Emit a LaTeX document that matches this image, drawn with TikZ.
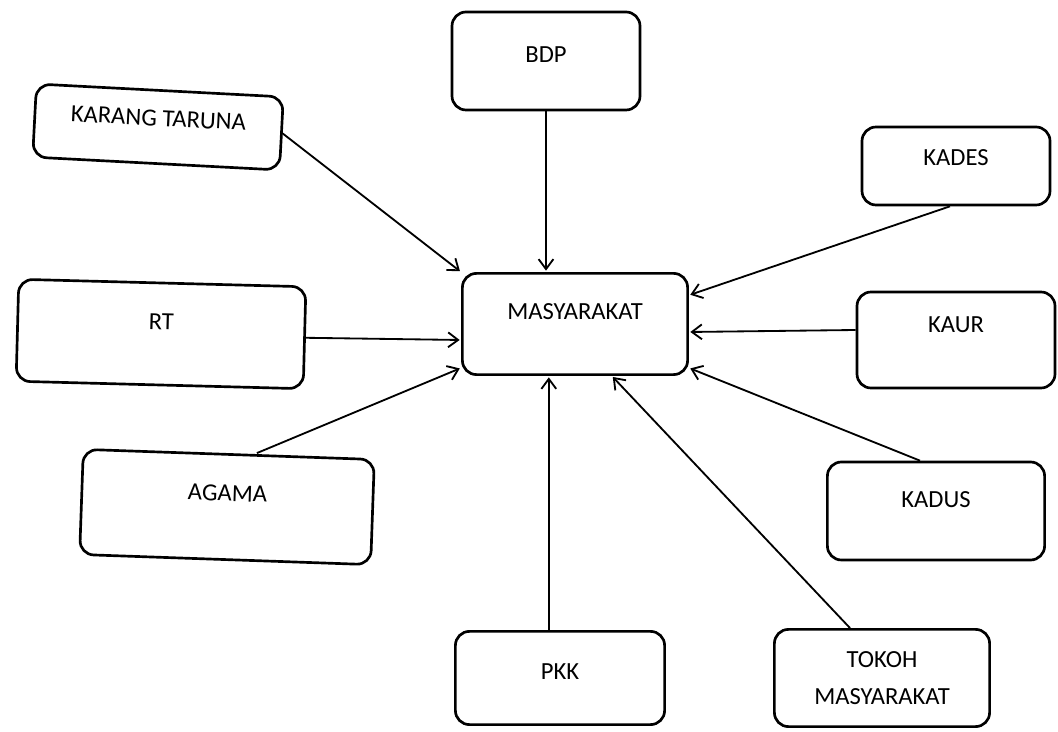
\documentclass[tikz,border=0pt]{standalone}
\usepackage{fontspec}
\setmainfont{Carlito}
\usetikzlibrary{arrows.meta}

\begin{document}
\begin{tikzpicture}[
	kotak/.style={draw,line width=1.9pt,rounded corners=0.35cm,inner sep=0pt,align=center,
		font=\fontsize{17.5}{26}\selectfont},
	panah/.style={line width=1.3pt,-{Straight Barb[length=2.5mm,width=3.7mm]},shorten >=1pt}]
	\useasboundingbox (0,0) rectangle (26.45,18.275);
	% boxes
	\node[kotak,minimum width=5.63cm,minimum height=2.53cm,text depth=0.6cm] (m) at (14.375,10.175) {MASYARAKAT};
	\node[kotak,minimum width=4.7cm,minimum height=2.45cm,text depth=0.3cm] (bdp) at (13.65,16.75) {BDP};
	\node[kotak,minimum width=6.18cm,minimum height=1.83cm,text depth=0.45cm,rotate=-3] (kt) at (3.95,15.1) {KARANG TARUNA};
	\node[kotak,minimum width=4.7cm,minimum height=1.95cm,text depth=0.4cm] (kades) at (23.9,14.125) {KADES};
	\node[kotak,minimum width=7.18cm,minimum height=2.55cm,text depth=0.6cm,rotate=-1.5] (rt) at (4.025,9.925) {RT};
	\node[kotak,minimum width=4.95cm,minimum height=2.4cm,text depth=0.75cm] (kaur) at (23.9,9.775) {KAUR};
	\node[kotak,minimum width=7.28cm,minimum height=2.63cm,text depth=0.7cm,rotate=-2] (agama) at (5.675,5.6) {AGAMA};
	\node[kotak,minimum width=5.43cm,minimum height=2.45cm,text depth=0.55cm] (kadus) at (23.4,5.5) {KADUS};
	\node[kotak,minimum width=5.23cm,minimum height=2.33cm,text depth=0.3cm] (pkk) at (14.0,1.325) {PKK};
	\node[kotak,minimum width=5.38cm,minimum height=2.43cm] (tokoh) at (22.05,1.325) {TOKOH\\MASYARAKAT};
	% arrows
	\draw[panah] (kt.east) -- (m.north west);
	\draw[panah] (bdp.south) -- (bdp.south |- m.north);
	\draw[panah] ([xshift=-0.15cm]kades.south) -- ([yshift=0.72cm]m.east);
	\draw[panah] (rt.east) -- ([yshift=-0.4cm]m.west);
	\draw[panah] ([yshift=0.25cm]kaur.west) -- ([yshift=-0.2cm]m.east);
	\draw[panah] ([xshift=0.7cm]agama.north) -- ([yshift=0.2cm]m.south west);
	\draw[panah] ([xshift=-0.4cm]kadus.north) -- ([yshift=0.2cm]m.south east);
	\draw[panah] ([xshift=-0.28cm]pkk.north) -- ([xshift=-0.28cm]pkk.north |- m.south);
	\draw[panah] ([xshift=-0.8cm]tokoh.north) -- ([xshift=0.92cm]m.south);
\end{tikzpicture}
\end{document}
